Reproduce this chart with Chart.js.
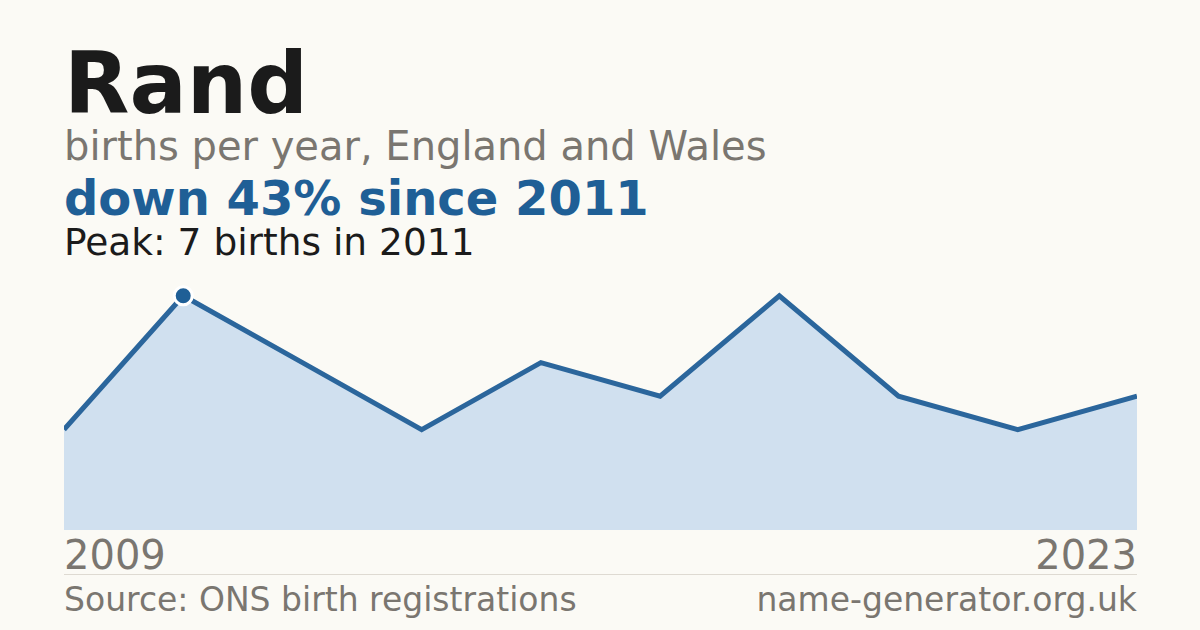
<!DOCTYPE html>
<html>
<head>
<meta charset="utf-8">
<script src="https://cdn.jsdelivr.net/npm/chart.js@4"></script>
<style>
  html, body { margin: 0; padding: 0; }
  body {
    width: 1200px; height: 630px; overflow: hidden; position: relative;
    background: #fbfaf5; font-family: "DejaVu Sans", sans-serif;
  }
  .t { position: absolute; left: 64px; line-height: 1; white-space: nowrap; }
  #title { top: 41px; font-size: 85px; font-weight: bold; color: #1b1b1b; }
  #sub { top: 126px; font-size: 40px; color: #7a7670; }
  #change { top: 174px; font-size: 48px; font-weight: bold; color: #1f5f96; }
  #peak { top: 224px; font-size: 37.5px; color: #1b1b1b; }
  #chartBox { position: absolute; left: 64px; top: 279px; width: 1073px; height: 251px; }
  #yFirst { top: 535px; font-size: 40px; color: #7a7670; }
  #yLast { top: 535px; left: auto; right: 63px; font-size: 40px; color: #7a7670; }
  #rule { position: absolute; left: 64px; top: 574px; width: 1073px; height: 1px; background: #dedad2; }
  #source { top: 583px; font-size: 33px; color: #7a7670; }
  #site { top: 583px; left: auto; right: 63px; font-size: 33px; color: #7a7670; }
</style>
</head>
<body>
<div class="t" id="title">Rand</div>
<div class="t" id="sub">births per year, England and Wales</div>
<div class="t" id="change"></div>
<div class="t" id="peak"></div>
<div id="chartBox"><canvas id="birthsChart"></canvas></div>
<div class="t" id="yFirst"></div>
<div class="t" id="yLast"></div>
<div id="rule"></div>
<div class="t" id="source">Source: ONS birth registrations</div>
<div class="t" id="site">name-generator.org.uk</div>

<script>
// Years with published counts and births per year
const years = ['2009', '2011', '2013', '2014', '2016', '2017', '2019', '2020', '2022', '2023'];
const births = [3, 7, 5, 3, 5, 4, 7, 4, 3, 4];

const lineColor = '#2b669c';
const fillColor = '#d0e0ef';

// Peak = first max value
const peakIdx = births.indexOf(Math.max(...births));
const peakVal = births[peakIdx];
const lastVal = births[births.length - 1];
const pct = Math.round((1 - lastVal / peakVal) * 100);

document.getElementById('change').textContent = `down ${pct}% since ${years[peakIdx]}`;
document.getElementById('peak').textContent = `Peak: ${peakVal} births in ${years[peakIdx]}`;
document.getElementById('yFirst').textContent = years[0];
document.getElementById('yLast').textContent = years[years.length - 1];

const ctx = document.getElementById('birthsChart').getContext('2d');
new Chart(ctx, {
    type: 'line',
    data: {
        labels: years,
        datasets: [{
            data: births,
            borderColor: lineColor,
            borderWidth: 5,
            backgroundColor: fillColor,
            fill: 'origin',
            tension: 0,
            clip: false,
            pointRadius: births.map((v, i) => i === peakIdx ? 9 : 0),
            pointBackgroundColor: '#1f5f96',
            pointBorderColor: '#ffffff',
            pointBorderWidth: 3,
        }]
    },
    options: {
        responsive: true,
        maintainAspectRatio: false,
        animation: false,
        layout: { padding: 0 },
        plugins: {
            legend: { display: false },
            tooltip: { enabled: false }
        },
        scales: {
            x: { display: false, offset: false },
            y: { display: false, min: 0, max: 7.5 }
        }
    }
});
</script>
</body>
</html>
